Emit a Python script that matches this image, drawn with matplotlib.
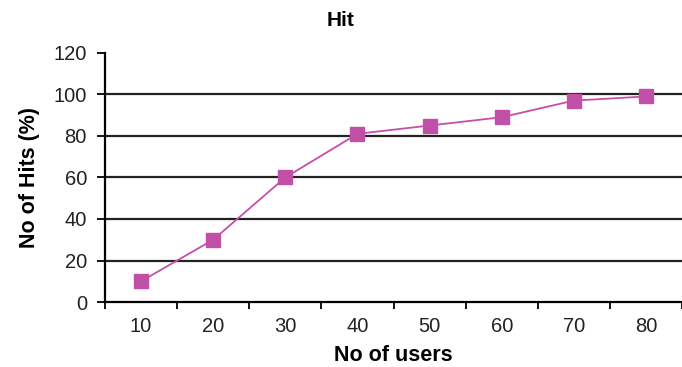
import numpy as np
import matplotlib.pyplot as plt

plt.rcParams['font.family'] = ['Liberation Sans', 'DejaVu Sans']

# users per run and hit percentage
users = ['10', '20', '30', '40', '50', '60', '70', '80']
hits = [10, 30, 60, 81, 85, 89, 97, 99]

fig = plt.figure(figsize=(6.82, 3.67), dpi=100)
ax = fig.add_axes([0.154, 0.177, 0.846, 0.679])

x = np.arange(len(users))
ax.plot(x, hits, color='#C44FA8', lw=1.3, marker='s', ms=9.5,
        markeredgecolor='#C44FA8', markerfacecolor='#C050A5', zorder=3)

ax.set_xlim(-0.5, len(users) - 0.5)
ax.set_ylim(0, 120)
ax.set_yticks(range(0, 121, 20))
for y in range(20, 101, 20):
    ax.axhline(y, color='#222222', lw=1.6, zorder=1)

# category labels sit between the boundary ticks
ax.set_xticks(x)
ax.set_xticklabels(users)
ax.tick_params(axis='x', length=0, pad=11, labelsize=14.5, labelcolor='#222222')
ax.set_xticks(np.arange(-0.5, len(users) - 0.4, 1), minor=True)
ax.tick_params(axis='x', which='minor', length=5, width=1.3, direction='out')
ax.tick_params(axis='y', length=6, width=1.3, direction='out', labelsize=14.5,
               pad=7, labelcolor='#222222')

for s in ['top', 'right']:
    ax.spines[s].set_visible(False)
ax.spines['left'].set_linewidth(1.6)
ax.spines['bottom'].set_linewidth(1.6)

fig.text(0.5, 0.945, 'Hit', ha='center', va='center', fontsize=15, fontweight='bold')
ax.set_xlabel('No of users', fontsize=15.5, fontweight='bold', labelpad=6)
ax.set_ylabel('No of Hits (%)', fontsize=15.5, fontweight='bold', labelpad=10)

fig.savefig('out.png', dpi=100)
